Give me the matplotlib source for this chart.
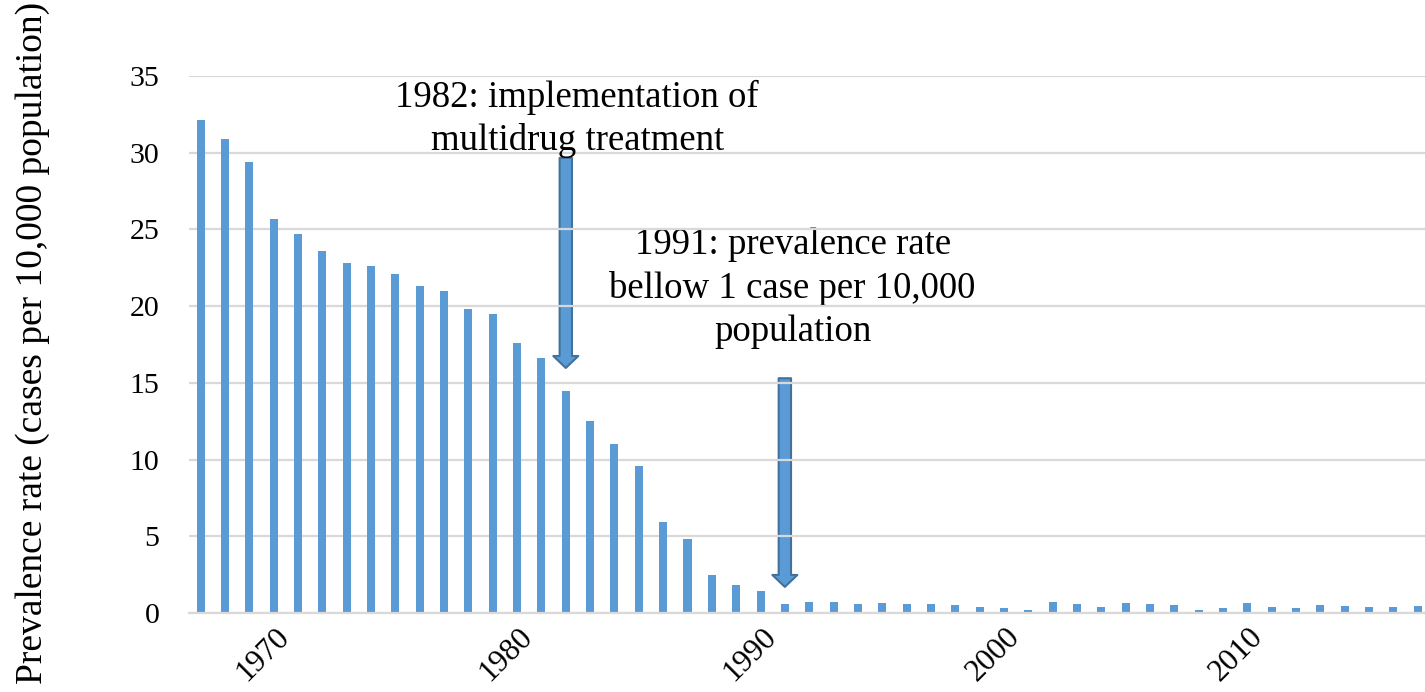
import matplotlib
matplotlib.use("Agg")
import matplotlib.pyplot as plt
import matplotlib.transforms as mtransforms
from matplotlib.patches import FancyArrowPatch, ArrowStyle

plt.rcParams['font.family'] = ['Liberation Serif', 'DejaVu Serif']

# prevalence per 10,000 population, 1967-2017
years = list(range(1967, 2018))
prevalence = [
    32.1, 30.9, 29.4, 25.7, 24.7, 23.6, 22.8, 22.6, 22.1, 21.3,
    21.0, 19.8, 19.5, 17.6, 16.6, 14.5, 12.5, 11.0, 9.6, 5.9,
    4.8, 2.5, 1.8, 1.4, 0.6, 0.7, 0.7, 0.6, 0.65, 0.6,
    0.6, 0.5, 0.4, 0.3, 0.2, 0.7, 0.6, 0.4, 0.65, 0.6,
    0.5, 0.2, 0.35, 0.63, 0.4, 0.35, 0.5, 0.46, 0.4, 0.4,
    0.46,
]
tick_years = [1970, 1980, 1990, 2000, 2010]
y_ticks = [0, 5, 10, 15, 20, 25, 30, 35]

note_1982 = "1982: implementation of\nmultidrug treatment"
note_1991 = "1991: prevalence rate\nbellow 1 case per 10,000\npopulation"

bar_color = "#5B9BD5"
arrow_edge = "#41719C"
grid_color = "#D9D9D9"

fig = plt.figure(figsize=(14.25, 6.92), dpi=100)
ax = fig.add_axes([0.1323, 0.1142, 0.8677, 0.776])

ax.bar(years, prevalence, width=0.33, color=bar_color, zorder=2)

ax.set_xlim(1966.5, 2017.3)
ax.set_ylim(0, 35)
ax.set_yticks(y_ticks)
ax.set_xticks(tick_years)
ax.grid(axis="y", color=grid_color, linewidth=1.6)
ax.set_axisbelow(True)
for side in ["top", "right", "left"]:
    ax.spines[side].set_visible(False)
ax.spines["bottom"].set_color(grid_color)
ax.spines["bottom"].set_linewidth(1.6)
ax.tick_params(axis="y", length=0, pad=21, labelsize=21.5)
ax.tick_params(axis="x", length=0, pad=7, labelsize=22.5)

shift = mtransforms.ScaledTranslation(1 / 100, 0, fig.dpi_scale_trans)
for lbl in ax.get_xticklabels():
    lbl.set_rotation(45)
    lbl.set_ha("right")
    lbl.set_va("top")
    lbl.set_rotation_mode("anchor")
    lbl.set_transform(lbl.get_transform() + shift)

fig.text(0.023, 0.505, "Prevalence rate (cases per 10,000 population)",
         rotation=90, ha="center", va="center", fontsize=27)

# block arrows
style = ArrowStyle.Simple(head_length=8.6, head_width=18, tail_width=8.9)
for x0, y_top, y_tip in [(1982, 29.66, 15.97), (1991, 15.3, 1.7)]:
    arr = FancyArrowPatch((x0, y_top), (x0, y_tip), arrowstyle=style,
                          mutation_scale=1, facecolor=bar_color,
                          edgecolor=arrow_edge, linewidth=1.5,
                          shrinkA=0, shrinkB=0, zorder=0.4)
    ax.add_patch(arr)

ax.text(1982.47, 32.2, note_1982, ha="center", va="center",
        fontsize=26.5, linespacing=1.33, zorder=3)
ax.text(1991.32, 21.15, note_1991, ha="center", va="center",
        fontsize=26.5, linespacing=1.33, zorder=0.4)

fig.savefig("out.png", dpi=100)
